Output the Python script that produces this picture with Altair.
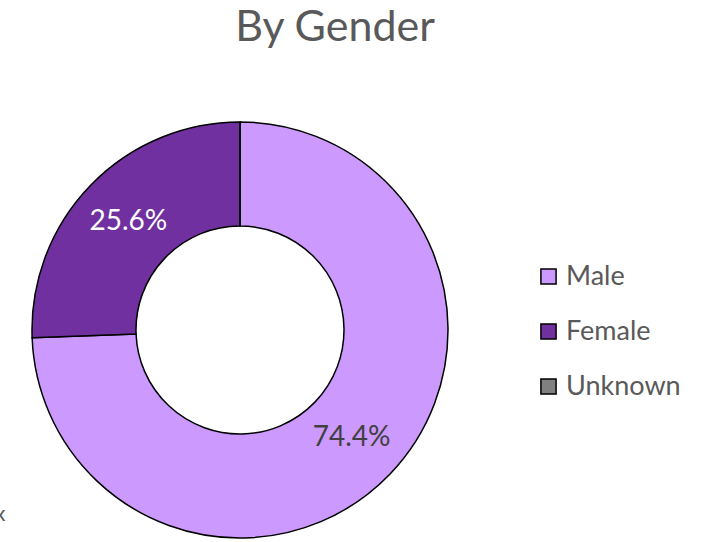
import altair as alt
import pandas as pd

genders = ["Male", "Female", "Unknown"]
values = [74.4, 25.6, 0.0]
orders = [1, 2, 3]
colors = ["#CC99FF", "#7030A0", "#808080"]

df = pd.DataFrame({"gender": genders, "value": values, "ord": orders})

W, H = 717, 542
CX, CY = 240, 330

base = alt.Chart(df)

arcs = base.mark_arc(outerRadius=208, innerRadius=104, stroke="black", strokeWidth=1.5).encode(
    x=alt.value(CX), y=alt.value(CY),
    theta=alt.Theta("value:Q", stack=True),
    order=alt.Order("ord:Q"),
    color=alt.Color("gender:N", scale=alt.Scale(domain=genders, range=colors),
                    sort=genders,
                    legend=alt.Legend(title=None, orient="none", legendX=535, legendY=263,
                                      symbolType="square", symbolSize=230,
                                      symbolStrokeColor="black", symbolStrokeWidth=1.5,
                                      symbolOpacity=1,
                                      labelFontSize=27, labelFont="Lato", labelColor="#595959",
                                      rowPadding=27, labelOffset=4, labelLimit=300)),
)

labels = base.mark_text(radius=155, fontSize=28, font="Lato").encode(
    x=alt.value(CX), y=alt.value(CY),
    theta=alt.Theta("value:Q", stack=True),
    order=alt.Order("ord:Q"),
    text=alt.Text("label:N"),
    color=alt.condition(alt.datum.gender == "Female", alt.value("white"), alt.value("#404040")),
).transform_calculate(label="format(datum.value, '.1f') + '%'")

labels_f = labels.transform_filter(alt.datum.value > 0)

title = alt.Chart(pd.DataFrame({"t": ["By Gender"]})).mark_text(
    fontSize=43, font="Lato", color="#595959", baseline="middle", align="center"
).encode(x=alt.value(335), y=alt.value(28), text="t:N")

stray = alt.Chart(pd.DataFrame({"t": ["x"]})).mark_text(
    fontSize=22, font="Lato", color="#595959", baseline="middle", align="center"
).encode(x=alt.value(0), y=alt.value(514), text="t:N")

chart = alt.layer(arcs, labels_f, title, stray).properties(
    width=W, height=H, padding=0, autosize=alt.AutoSizeParams(type="none")
).configure_view(stroke=None)

chart.save("out.html", embed_options={"renderer": "svg", "actions": False})
